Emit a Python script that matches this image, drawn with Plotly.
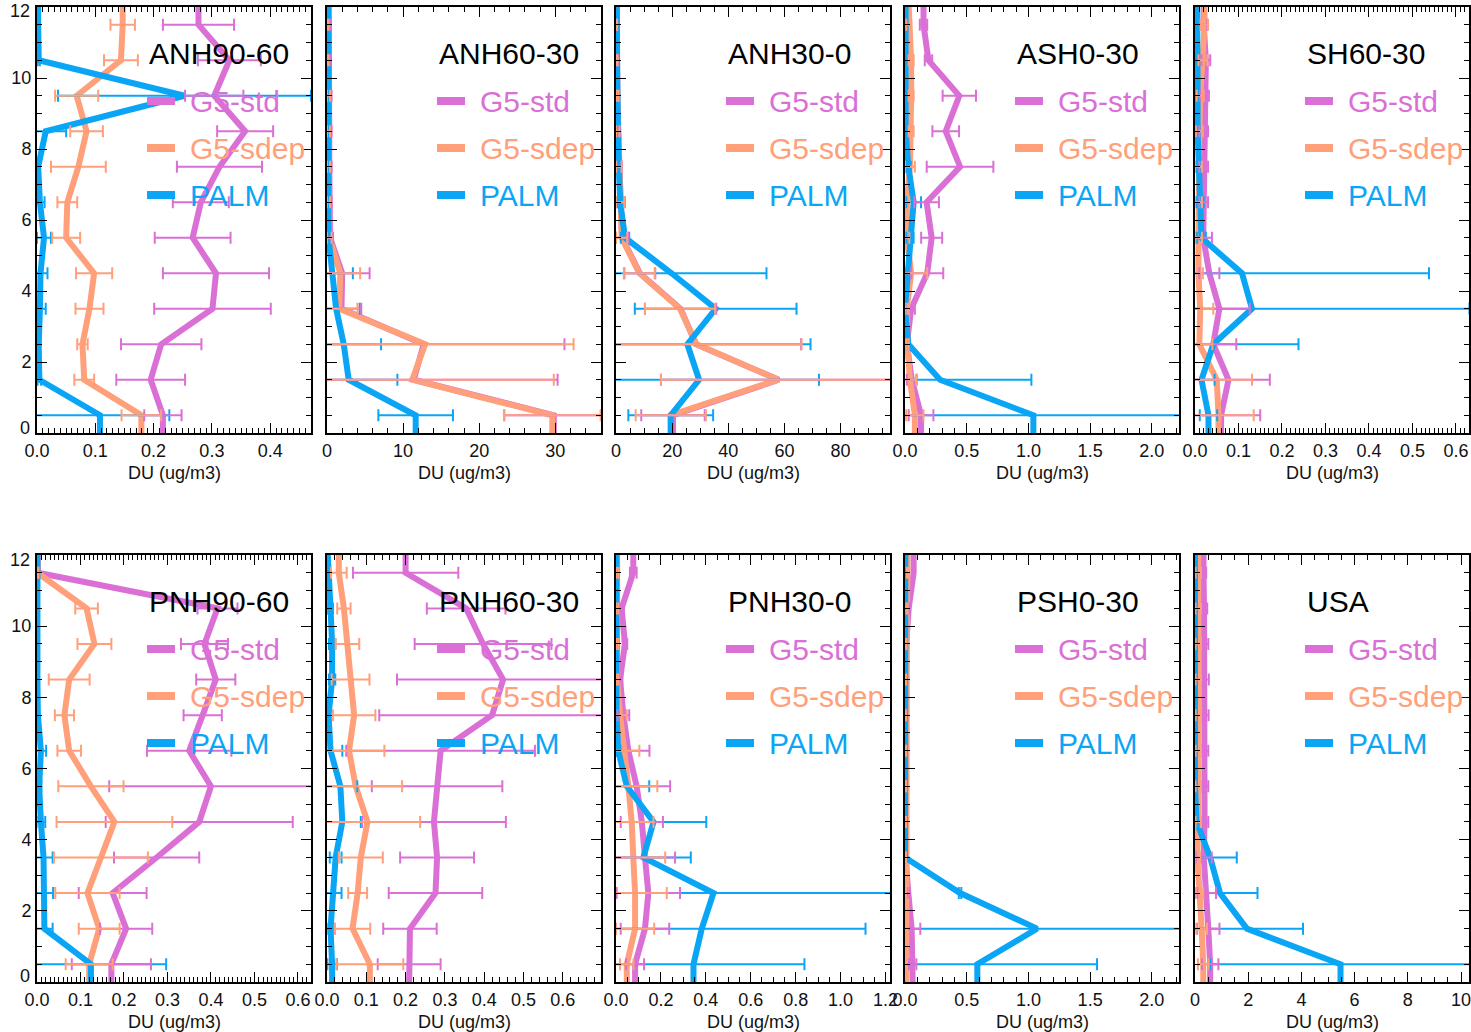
import plotly.graph_objects as go

# Altitude bin centres (km); profiles are extended to the surface and model top
ALT = [0.5, 1.5, 2.5, 3.5, 4.5, 5.5, 6.5, 7.5, 8.5, 9.5, 10.5, 11.5]
ALT_BOTTOM = 0.0
ALT_TOP = 12.0
ALT_TICKS = [0, 2, 4, 6, 8, 10, 12]

REGIONS = ["ANH90-60", "ANH60-30", "ANH30-0", "ASH0-30", "SH60-30",
           "PNH90-60", "PNH60-30", "PNH30-0", "PSH0-30", "USA"]
SERIES = ["G5-std", "G5-sdep", "PALM"]

# ---- dust concentration profiles (ug/m3) and their spread ----
ANH90_60_STD = [0.216, 0.195, 0.213, 0.301, 0.307, 0.267, 0.281, 0.313, 0.357, 0.304, 0.330, 0.277]
ANH90_60_STD_ERR = [0.032, 0.059, 0.069, 0.100, 0.091, 0.065, 0.048, 0.073, 0.048, 0.050, 0.054, 0.061]
ANH90_60_SDEP = [0.179, 0.081, 0.078, 0.090, 0.098, 0.050, 0.052, 0.071, 0.085, 0.068, 0.144, 0.147]
ANH90_60_SDEP_ERR = [0.034, 0.017, 0.009, 0.024, 0.031, 0.024, 0.017, 0.047, 0.028, 0.037, 0.029, 0.021]
ANH90_60_PALM = [0.108, 0.004, 0.003, 0.005, 0.006, 0.012, 0.005, 0.002, 0.015, 0.253, 0.003, 0.002]
ANH90_60_PALM_ERR = [0.119, 0.003, 0.002, 0.010, 0.012, 0.012, 0.008, 0.002, 0.035, 0.217, 0.002, 0.002]

ANH60_30_STD = [29.8, 11.4, 12.7, 1.9, 2.0, 0.4, 0.3, 0.3, 0.3, 0.3, 0.2, 0.2]
ANH60_30_STD_ERR = [6.5, 18.9, 18.5, 2.6, 3.6, 0.4, 0.3, 0.3, 0.3, 0.3, 0.2, 0.2]
ANH60_30_SDEP = [29.6, 11.2, 12.9, 1.6, 1.75, 0.3, 0.2, 0.2, 0.2, 0.2, 0.1, 0.1]
ANH60_30_SDEP_ERR = [6.35, 18.6, 19.5, 2.4, 2.6, 0.3, 0.2, 0.2, 0.2, 0.2, 0.1, 0.1]
ANH60_30_PALM = [11.65, 2.85, 2.2, 1.2, 0.6, 0.2, 0.2, 0.2, 0.2, 0.2, 0.2, 0.2]
ANH60_30_PALM_ERR = [4.9, 6.4, 4.9, 3.1, 2.8, 0.2, 0.1, 0.1, 0.1, 0.1, 0.1, 0.1]

ANH30_0_STD = [20.3, 58.0, 28.5, 23.0, 8.5, 2.2, 1.6, 1.1, 0.7, 0.5, 0.3, 0.2]
ANH30_0_STD_ERR = [11.3, 42.0, 37.4, 12.7, 5.5, 2.2, 1.6, 1.0, 0.6, 0.4, 0.3, 0.2]
ANH30_0_SDEP = [19.5, 57.8, 28.7, 22.8, 8.3, 2.0, 1.5, 1.0, 0.6, 0.5, 0.3, 0.2]
ANH30_0_SDEP_ERR = [12.5, 41.8, 37.4, 12.5, 5.5, 2.0, 1.5, 1.0, 0.6, 0.4, 0.3, 0.2]
ANH30_0_PALM = [19.5, 29.6, 25.4, 35.5, 19.8, 3.2, 1.5, 1.0, 0.6, 0.5, 0.4, 0.3]
ANH30_0_PALM_ERR = [15.1, 42.7, 43.9, 28.8, 33.8, 1.5, 0.8, 0.5, 0.3, 0.2, 0.2, 0.2]

ASH0_30_STD = [0.13, 0.055, 0.015, 0.05, 0.18, 0.216, 0.175, 0.446, 0.33, 0.44, 0.19, 0.15]
ASH0_30_STD_ERR = [0.10, 0.04, 0.01, 0.03, 0.13, 0.085, 0.10, 0.27, 0.108, 0.135, 0.03, 0.03]
ASH0_30_SDEP = [0.08, 0.04, 0.02, 0.014, 0.05, 0.015, 0.015, 0.04, 0.05, 0.05, 0.05, 0.03]
ASH0_30_SDEP_ERR = [0.07, 0.05, 0.01, 0.01, 0.13, 0.02, 0.02, 0.04, 0.02, 0.02, 0.02, 0.02]
ASH0_30_PALM = [1.04, 0.284, 0.027, 0.0, 0.02, 0.04, 0.07, 0.027, 0.005, 0.005, 0.005, 0.005]
ASH0_30_PALM_ERR = [1.19, 0.74, 0.01, 0.0, 0.01, 0.03, 0.06, 0.02, 0.003, 0.003, 0.003, 0.003]

SH60_30_STD = [0.060, 0.077, 0.042, 0.056, 0.033, 0.019, 0.020, 0.020, 0.020, 0.022, 0.025, 0.020]
SH60_30_STD_ERR = [0.090, 0.095, 0.053, 0.070, 0.023, 0.020, 0.010, 0.010, 0.010, 0.010, 0.010, 0.008]
SH60_30_SDEP = [0.054, 0.050, 0.010, 0.012, 0.008, 0.008, 0.008, 0.008, 0.010, 0.012, 0.018, 0.022]
SH60_30_SDEP_ERR = [0.081, 0.081, 0.030, 0.030, 0.010, 0.008, 0.008, 0.008, 0.008, 0.008, 0.010, 0.008]
SH60_30_PALM = [0.031, 0.015, 0.042, 0.131, 0.108, 0.015, 0.012, 0.008, 0.006, 0.006, 0.005, 0.005]
SH60_30_PALM_ERR = [0.020, 0.030, 0.196, 0.500, 0.430, 0.010, 0.008, 0.005, 0.004, 0.004, 0.004, 0.004]

PNH90_60_STD = [0.171, 0.205, 0.174, 0.275, 0.373, 0.400, 0.350, 0.381, 0.411, 0.385, 0.415, 0.002]
PNH90_60_STD_ERR = [0.091, 0.060, 0.078, 0.098, 0.215, 0.234, 0.097, 0.044, 0.045, 0.054, 0.046, 0.002]
PNH90_60_SDEP = [0.120, 0.143, 0.116, 0.147, 0.178, 0.124, 0.074, 0.063, 0.074, 0.132, 0.114, 0.001]
PNH90_60_SDEP_ERR = [0.054, 0.047, 0.074, 0.108, 0.133, 0.075, 0.027, 0.022, 0.047, 0.039, 0.026, 0.002]
PNH90_60_PALM = [0.124, 0.017, 0.017, 0.015, 0.009, 0.005, 0.009, 0.002, 0.001, 0.001, 0.001, 0.001]
PNH90_60_PALM_ERR = [0.173, 0.019, 0.020, 0.021, 0.010, 0.005, 0.012, 0.002, 0.001, 0.001, 0.001, 0.001]

PNH60_30_STD = [0.209, 0.211, 0.276, 0.280, 0.272, 0.280, 0.289, 0.420, 0.448, 0.397, 0.354, 0.200]
PNH60_30_STD_ERR = [0.080, 0.068, 0.119, 0.094, 0.183, 0.166, 0.240, 0.287, 0.270, 0.174, 0.100, 0.134]
PNH60_30_SDEP = [0.109, 0.065, 0.078, 0.086, 0.103, 0.073, 0.056, 0.069, 0.060, 0.052, 0.043, 0.030]
PNH60_30_SDEP_ERR = [0.085, 0.045, 0.024, 0.056, 0.134, 0.118, 0.090, 0.054, 0.048, 0.030, 0.017, 0.020]
PNH60_30_PALM = [0.013, 0.009, 0.017, 0.022, 0.039, 0.034, 0.009, 0.004, 0.013, 0.013, 0.009, 0.002]
PNH60_30_PALM_ERR = [0.012, 0.010, 0.020, 0.015, 0.047, 0.043, 0.030, 0.004, 0.008, 0.008, 0.006, 0.003]

PNH30_0_STD = [0.085, 0.129, 0.144, 0.129, 0.115, 0.092, 0.055, 0.033, 0.018, 0.040, 0.025, 0.077]
PNH30_0_STD_ERR = [0.040, 0.108, 0.141, 0.134, 0.094, 0.149, 0.094, 0.026, 0.010, 0.010, 0.010, 0.015]
PNH30_0_SDEP = [0.048, 0.085, 0.085, 0.077, 0.070, 0.055, 0.036, 0.018, 0.005, 0.005, 0.005, 0.005]
PNH30_0_SDEP_ERR = [0.030, 0.085, 0.141, 0.142, 0.097, 0.129, 0.068, 0.030, 0.005, 0.005, 0.005, 0.005]
PNH30_0_PALM = [0.345, 0.382, 0.434, 0.122, 0.167, 0.048, 0.010, 0.002, 0.002, 0.002, 0.002, 0.002]
PNH30_0_PALM_ERR = [0.494, 0.729, 0.790, 0.211, 0.235, 0.100, 0.010, 0.002, 0.002, 0.002, 0.002, 0.002]

PSH0_30_STD = [0.062, 0.054, 0.027, 0.005, 0.008, 0.008, 0.008, 0.008, 0.008, 0.010, 0.030, 0.070]
PSH0_30_STD_ERR = [0.030, 0.070, 0.010, 0.003, 0.003, 0.003, 0.003, 0.003, 0.003, 0.003, 0.010, 0.010]
PSH0_30_SDEP = [0.010, 0.010, 0.005, 0.005, 0.005, 0.005, 0.005, 0.005, 0.005, 0.008, 0.015, 0.020]
PSH0_30_SDEP_ERR = [0.005, 0.005, 0.003, 0.003, 0.003, 0.003, 0.003, 0.003, 0.003, 0.003, 0.005, 0.005]
PSH0_30_PALM = [0.586, 1.070, 0.446, 0.000, 0.002, 0.002, 0.002, 0.002, 0.002, 0.002, 0.002, 0.002]
PSH0_30_PALM_ERR = [0.970, 1.160, 0.010, 0.000, 0.001, 0.001, 0.001, 0.001, 0.001, 0.001, 0.001, 0.001]

USA_STD = [0.57, 0.50, 0.44, 0.33, 0.36, 0.36, 0.36, 0.37, 0.38, 0.36, 0.34, 0.32]
USA_STD_ERR = [0.31, 0.42, 0.35, 0.30, 0.14, 0.14, 0.14, 0.14, 0.14, 0.14, 0.12, 0.10]
USA_SDEP = [0.31, 0.25, 0.16, 0.09, 0.12, 0.12, 0.12, 0.12, 0.12, 0.12, 0.12, 0.12]
USA_SDEP_ERR = [0.20, 0.20, 0.15, 0.10, 0.10, 0.10, 0.10, 0.10, 0.10, 0.10, 0.10, 0.10]
USA_PALM = [5.47, 1.95, 0.94, 0.57, 0.06, 0.0, 0.0, 0.0, 0.0, 0.0, 0.0, 0.0]
USA_PALM_ERR = [4.90, 2.11, 1.41, 1.00, 0.05, 0.0, 0.0, 0.0, 0.0, 0.0, 0.0, 0.0]

PROFILES = [
    (ANH90_60_STD, ANH90_60_STD_ERR, ANH90_60_SDEP, ANH90_60_SDEP_ERR, ANH90_60_PALM, ANH90_60_PALM_ERR),
    (ANH60_30_STD, ANH60_30_STD_ERR, ANH60_30_SDEP, ANH60_30_SDEP_ERR, ANH60_30_PALM, ANH60_30_PALM_ERR),
    (ANH30_0_STD, ANH30_0_STD_ERR, ANH30_0_SDEP, ANH30_0_SDEP_ERR, ANH30_0_PALM, ANH30_0_PALM_ERR),
    (ASH0_30_STD, ASH0_30_STD_ERR, ASH0_30_SDEP, ASH0_30_SDEP_ERR, ASH0_30_PALM, ASH0_30_PALM_ERR),
    (SH60_30_STD, SH60_30_STD_ERR, SH60_30_SDEP, SH60_30_SDEP_ERR, SH60_30_PALM, SH60_30_PALM_ERR),
    (PNH90_60_STD, PNH90_60_STD_ERR, PNH90_60_SDEP, PNH90_60_SDEP_ERR, PNH90_60_PALM, PNH90_60_PALM_ERR),
    (PNH60_30_STD, PNH60_30_STD_ERR, PNH60_30_SDEP, PNH60_30_SDEP_ERR, PNH60_30_PALM, PNH60_30_PALM_ERR),
    (PNH30_0_STD, PNH30_0_STD_ERR, PNH30_0_SDEP, PNH30_0_SDEP_ERR, PNH30_0_PALM, PNH30_0_PALM_ERR),
    (PSH0_30_STD, PSH0_30_STD_ERR, PSH0_30_SDEP, PSH0_30_SDEP_ERR, PSH0_30_PALM, PSH0_30_PALM_ERR),
    (USA_STD, USA_STD_ERR, USA_SDEP, USA_SDEP_ERR, USA_PALM, USA_PALM_ERR),
]

# ---- x-axis settings per panel ----
X_MAX = [0.47, 36, 97.6, 2.22, 0.63, 0.63, 0.697, 1.22, 2.22, 10.3]
X_DTICK = [0.1, 10, 20, 0.5, 0.1, 0.1, 0.1, 0.2, 0.5, 2]
X_MINOR = [0.01, 2, 5, 0.1, 0.01, 0.01, 0.02, 0.05, 0.1, 0.5]
X_FMT = [".1f", "d", "d", ".1f", ".1f", ".1f", ".1f", ".1f", ".1f", "d"]
X_TITLE = "DU (ug/m3)"

COLORS = ["#DA70D6", "#FFA07A", "#0AA6F5"]
FONT = "Liberation Sans, Arial, Helvetica, sans-serif"
TICK_FONT = dict(family=FONT, size=18, color="#111")

# ---- page layout in pixels ----
W, H = 1471, 1032
COL_LEFT = [37, 327, 616, 905, 1195]
PLOT_W = 274
ROW_TOP = [7, 555]
PLOT_H = [426, 427]
# end labels of the altitude axis are nudged inside the frame
EDGE_NUDGE = [(4, 5), (5, 6)]

fig = go.Figure()
annotations = []
shapes = []
layout = {}

for k, region in enumerate(REGIONS):
    row, col = divmod(k, 5)
    idx = "" if k == 0 else str(k + 1)
    xa, ya = "x" + idx, "y" + idx
    left, top, ph = COL_LEFT[col], ROW_TOP[row], PLOT_H[row]

    profile = PROFILES[k]
    values = profile[0::2]
    errors = profile[1::2]

    # profile lines (surface and top share the nearest bin value)
    for s, v in enumerate(values):
        fig.add_trace(go.Scatter(
            x=[v[0]] + list(v) + [v[-1]], y=[ALT_BOTTOM] + ALT + [ALT_TOP],
            mode="lines", line=dict(color=COLORS[s], width=6),
            xaxis=xa, yaxis=ya, showlegend=False, hoverinfo="skip"))
    # spread bars
    for s in (2, 0, 1):
        fig.add_trace(go.Scatter(
            x=values[s], y=ALT, mode="markers",
            marker=dict(size=1, color="rgba(0,0,0,0)"),
            error_x=dict(type="data", array=errors[s], symmetric=True,
                         color=COLORS[s], thickness=2, width=6),
            xaxis=xa, yaxis=ya, showlegend=False, hoverinfo="skip"))

    axis_common = dict(
        showline=True, linecolor="black", linewidth=2, mirror="allticks",
        ticks="inside", tickcolor="black", tickwidth=1, ticklen=10,
        showgrid=False, zeroline=False, automargin=False,
        ticklabeloverflow="allow", tickfont=TICK_FONT,
    )
    layout["xaxis" + idx] = dict(
        axis_common, anchor=ya, range=[0, X_MAX[k]], dtick=X_DTICK[k], tick0=0,
        tickformat=X_FMT[k],
        minor=dict(dtick=X_MINOR[k], ticks="inside", ticklen=5, tickcolor="black"),
        domain=[left / W, (left + PLOT_W) / W])
    inner = ALT_TICKS[1:-1]
    layout["yaxis" + idx] = dict(
        axis_common, anchor=xa, range=[ALT_BOTTOM, ALT_TOP],
        tickvals=ALT_TICKS,
        ticktext=[""] + [str(t) for t in inner] + [""],
        showticklabels=(col == 0),
        minor=dict(dtick=0.5, ticks="inside", ticklen=5, tickcolor="black"),
        domain=[1 - (top + ph) / H, 1 - top / H])

    xd, yd = xa + " domain", ya + " domain"
    if col == 0:
        top_nudge, bottom_nudge = EDGE_NUDGE[row]
        for val, ypos in ((ALT_TICKS[-1], 1 - top_nudge / ph),
                          (ALT_TICKS[0], bottom_nudge / ph)):
            annotations.append(dict(
                text=str(val), xref=xd, yref=yd, x=0, y=ypos, xshift=-5,
                xanchor="right", yanchor="middle", showarrow=False,
                font=TICK_FONT))
    # x-axis title under the tick labels
    annotations.append(dict(
        text=X_TITLE, xref=xd, yref=yd, x=0.5, y=-40 / ph,
        xanchor="center", yanchor="middle", showarrow=False,
        font=TICK_FONT))
    # region name and key
    annotations.append(dict(
        text=region, xref=xd, yref=yd, x=110 / PLOT_W, y=1 - 46 / ph,
        xanchor="left", yanchor="middle", showarrow=False,
        font=dict(family=FONT, size=30, color="black")))
    for s, name in enumerate(SERIES):
        ypos = 1 - (94 + 47 * s) / ph
        shapes.append(dict(
            type="line", xref=xd, yref=yd, x0=110 / PLOT_W, x1=138 / PLOT_W,
            y0=ypos, y1=ypos, line=dict(color=COLORS[s], width=8)))
        annotations.append(dict(
            text=name, xref=xd, yref=yd, x=151 / PLOT_W, y=ypos,
            xanchor="left", yanchor="middle", showarrow=False,
            font=dict(family=FONT, size=30, color=COLORS[s])))

fig.update_layout(
    width=W, height=H,
    margin=dict(l=0, r=0, t=0, b=0),
    paper_bgcolor="white", plot_bgcolor="white",
    showlegend=False,
    annotations=annotations, shapes=shapes,
    **layout)

fig.write_html("out.html")
